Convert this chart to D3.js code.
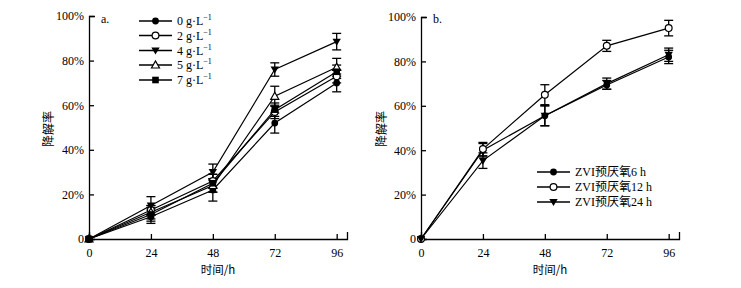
<!DOCTYPE html>
<html><head><meta charset="utf-8">
<script src="https://cdn.jsdelivr.net/npm/d3@7"></script>
<style>
body{margin:0;background:#fff;}
svg{display:block;}
text{font-family:"Liberation Serif","Times New Roman",serif;fill:#000;}
.cjk{font-family:"Noto Sans CJK SC","Liberation Serif",serif;}
</style></head><body>
<svg id="c" width="741" height="288"></svg>
<script>
const times = [0, 24, 48, 72, 96];
const yTicks = [0, 0.2, 0.4, 0.6, 0.8, 1.0];

// Panel a
const aNames = ["0", "2", "4", "5", "7"];
const aSymbols = ["circleFilled", "circleOpen", "triDown", "triUpOpen", "square"];
const a0 = [0, 0.10, 0.22, 0.52, 0.70];
const a2 = [0, 0.13, 0.26, 0.57, 0.73];
const a4 = [0, 0.15, 0.30, 0.76, 0.885];
const a5 = [0, 0.12, 0.24, 0.64, 0.77];
const a7 = [0, 0.11, 0.25, 0.58, 0.75];
const a0err = [0, 0.03, 0.05, 0.045, 0.04];
const a2err = [0, 0.02, 0.03, 0.03, 0.03];
const a4err = [0, 0.04, 0.036, 0.03, 0.037];
const a5err = [0, 0.03, 0.03, 0.045, 0.04];
const a7err = [0, 0.03, 0.04, 0.03, 0.03];

// Panel b
const bNames = ["ZVI预厌氧6 h", "ZVI预厌氧12 h", "ZVI预厌氧24 h"];
const bSymbols = ["circleFilled", "circleOpen", "triDown"];
const b6 = [0, 0.40, 0.555, 0.694, 0.82];
const b12 = [0, 0.405, 0.65, 0.87, 0.95];
const b24 = [0, 0.353, 0.555, 0.70, 0.83];
const b6err = [0, 0.03, 0.045, 0.02, 0.03];
const b12err = [0, 0.03, 0.045, 0.025, 0.035];
const b24err = [0, 0.035, 0.045, 0.025, 0.03];

const svg = d3.select("#c");

function marker(g, type, x, y) {
  const r = 3.4;
  if (type === "circleFilled") g.append("circle").attr("cx", x).attr("cy", y).attr("r", r).attr("fill", "#000");
  else if (type === "circleOpen") g.append("circle").attr("cx", x).attr("cy", y).attr("r", r).attr("fill", "#fff").attr("stroke", "#000").attr("stroke-width", 1.2);
  else if (type === "triDown") g.append("path").attr("d", `M${x-4.2},${y-3}L${x+4.2},${y-3}L${x},${y+4}Z`).attr("fill", "#000");
  else if (type === "triUpOpen") g.append("path").attr("d", `M${x-4},${y+3}L${x+4},${y+3}L${x},${y-4}Z`).attr("fill", "#fff").attr("stroke", "#000").attr("stroke-width", 1.2);
  else if (type === "square") g.append("rect").attr("x", x-3.3).attr("y", y-3.3).attr("width", 6.6).attr("height", 6.6).attr("fill", "#000");
}

function panel(opt) {
  const x = d3.scaleLinear().domain([0, 100]).range([opt.x0, opt.x1]);
  const y = d3.scaleLinear().domain([0, 1]).range([239, opt.yTop]);
  const g = svg.append("g");

  const xa = g.append("g").attr("transform", "translate(0,239)")
    .call(d3.axisBottom(x).tickValues(times).tickSize(-5).tickSizeOuter(-7).tickPadding(9).tickFormat(d3.format("d")));
  const ya = g.append("g").attr("transform", `translate(${opt.x0},0)`)
    .call(d3.axisLeft(y).tickValues(yTicks).tickSize(-5).tickSizeOuter(-6).tickPadding(5)
      .tickFormat(d => d === 0 ? "0" : Math.round(d * 100) + "%"));
  [xa, ya].forEach(a => {
    a.selectAll("path,line").attr("stroke", "#000").attr("stroke-width", 1.3);
    a.selectAll("text").style("font-family", '"Liberation Serif",serif').style("font-size", "12px").attr("fill", "#000");
  });

  g.append("text").attr("class", "cjk").attr("x", (opt.x0 + opt.x1) / 2).attr("y", 274)
    .attr("text-anchor", "middle").style("font-size", "11.5px").text("时间/h");
  g.append("text").attr("class", "cjk")
    .attr("transform", `translate(${opt.yLabelX},129) rotate(-90)`)
    .attr("text-anchor", "middle").style("font-size", "12px").text("降解率");
  g.append("text").attr("x", opt.x0 + 12).attr("y", 23).style("font-size", "12px").text(opt.tag);

  const line = d3.line().x((d, i) => x(times[i])).y(d => y(d));
  opt.series.forEach(s => {
    g.append("path").datum(s.v).attr("d", line).attr("fill", "none").attr("stroke", "#000").attr("stroke-width", 1.2);
  });
  opt.series.forEach(s => {
    s.v.forEach((v, i) => {
      const e = s.e[i];
      if (!e) return;
      const cx = x(times[i]);
      g.append("line").attr("x1", cx).attr("x2", cx).attr("y1", y(v - e)).attr("y2", y(v + e)).attr("stroke", "#000").attr("stroke-width", 1.3);
      [v - e, v + e].forEach(t => g.append("line").attr("x1", cx - 4.5).attr("x2", cx + 4.5).attr("y1", y(t)).attr("y2", y(t)).attr("stroke", "#000").attr("stroke-width", 1.3));
    });
  });
  opt.series.forEach(s => {
    s.v.forEach((v, i) => marker(g, s.sym, x(times[i]), y(v)));
  });

  // legend
  opt.series.forEach((s, i) => {
    const ly = opt.legY[i];
    g.append("line").attr("x1", opt.legX).attr("x2", opt.legX + 33).attr("y1", ly).attr("y2", ly).attr("stroke", "#000").attr("stroke-width", 1.3);
    marker(g, s.sym, opt.legX + 16.5, ly);
    const t = g.append("text").attr("x", opt.legX + 38).attr("y", ly + 4).style("font-size", "12px");
    if (opt.unit) {
      t.append("tspan").text(s.name + " g·L");
      t.append("tspan").attr("dy", -5).style("font-size", "8px").text("−1");
    } else {
      t.attr("class", "cjk").style("font-family", '"Liberation Serif","Noto Sans CJK SC",serif').text(s.name);
    }
  });
}

panel({
  x0: 89, x1: 347, yTop: 16, yLabelX: 53, tag: "a.", unit: true,
  legX: 139, legY: [21, 35.5, 50.5, 65, 80],
  series: [
    {name: aNames[0], sym: aSymbols[0], v: a0, e: a0err},
    {name: aNames[1], sym: aSymbols[1], v: a2, e: a2err},
    {name: aNames[2], sym: aSymbols[2], v: a4, e: a4err},
    {name: aNames[3], sym: aSymbols[3], v: a5, e: a5err},
    {name: aNames[4], sym: aSymbols[4], v: a7, e: a7err}
  ]
});
panel({
  x0: 421, x1: 679, yTop: 17, yLabelX: 386, tag: "b.", unit: false,
  legX: 537, legY: [172, 187, 202],
  series: [
    {name: bNames[0], sym: bSymbols[0], v: b6, e: b6err},
    {name: bNames[1], sym: bSymbols[1], v: b12, e: b12err},
    {name: bNames[2], sym: bSymbols[2], v: b24, e: b24err}
  ]
});
</script>
</body></html>
